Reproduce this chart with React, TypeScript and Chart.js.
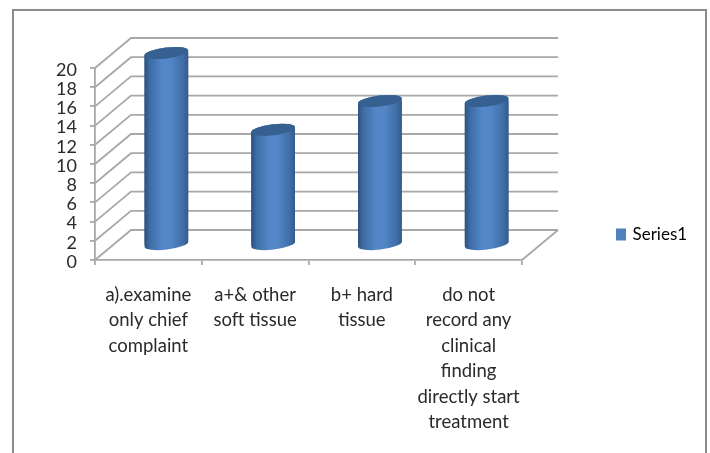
import React, { useEffect, useRef } from "react";
import { Chart, registerables } from "chart.js";

Chart.register(...registerables);

const categories = [
  ["a).examine", "only chief", "complaint"],
  ["a+& other", "soft tissue"],
  ["b+ hard", "tissue"],
  ["do not", "record any", "clinical", "finding", "directly start", "treatment"],
];
const seriesValues = [20, 12, 15, 15];
const seriesName = "Series1";

const FONT = "Lato";
const GRID = "#a8a8a8";
const TEXT = "#2a2a2a";
const DEPTH_X = 36;
const DEPTH_Y = -30;
const BAR_DX = 18;
const BAR_DY = -15;
const RX = 22;
const RY = 5.5;
const TILT = (-7 * Math.PI) / 180;

function cylinderGradient(ctx: CanvasRenderingContext2D, cx: number) {
  const g = ctx.createLinearGradient(cx - RX, 0, cx + RX, 0);
  g.addColorStop(0, "#2c507e");
  g.addColorStop(0.12, "#3d6ca4");
  g.addColorStop(0.42, "#5588ca");
  g.addColorStop(0.6, "#5386c6");
  g.addColorStop(0.88, "#3f6ea7");
  g.addColorStop(1, "#35598a");
  return g;
}

// Back wall, floor edges and receding gridlines, all taken from the scales.
const wallsPlugin = {
  id: "walls",
  beforeDraw(chart: any) {
    const { ctx, width, height } = chart;
    ctx.save();
    ctx.fillStyle = "#ffffff";
    ctx.fillRect(0, 0, width, height);
    ctx.strokeStyle = "#8c8c8c";
    ctx.lineWidth = 2;
    ctx.beginPath();
    ctx.moveTo(13, height);
    ctx.lineTo(13, 10);
    ctx.lineTo(706, 10);
    ctx.lineTo(706, height);
    ctx.stroke();
    ctx.restore();
  },
  beforeDatasetsDraw(chart: any) {
    const { ctx, chartArea, scales } = chart;
    const { left, right } = chartArea;
    ctx.save();
    ctx.strokeStyle = GRID;
    ctx.lineWidth = 1.8;
    scales.y.ticks.forEach((t: any) => {
      const y = scales.y.getPixelForValue(t.value);
      ctx.beginPath();
      ctx.moveTo(left, y);
      ctx.lineTo(left + DEPTH_X, y + DEPTH_Y);
      ctx.lineTo(right + DEPTH_X, y + DEPTH_Y);
      ctx.stroke();
    });
    const floor = scales.y.getPixelForValue(0);
    ctx.beginPath();
    ctx.moveTo(right, floor);
    ctx.lineTo(right + DEPTH_X, floor + DEPTH_Y);
    ctx.stroke();
    ctx.restore();
  },
  // Bars stand halfway into the floor, with rounded ends for the cylinder look.
  beforeDatasetDraw(chart: any, args: any) {
    const { ctx } = chart;
    ctx.save();
    ctx.translate(BAR_DX, BAR_DY);
    const bars = chart.getDatasetMeta(args.index).data;
    const clip = new Path2D();
    bars.forEach((b: any) => {
      const body = new Path2D();
      body.ellipse(b.x, b.y, RX, RY, TILT, Math.PI, 0, false);
      body.ellipse(b.x, b.base, RX, RY, TILT, 0, Math.PI, false);
      body.closePath();
      ctx.fillStyle = cylinderGradient(ctx, b.x);
      ctx.fill(body);
      clip.addPath(body);
    });
    ctx.clip(clip);
  },
  afterDatasetDraw(chart: any, args: any) {
    const { ctx } = chart;
    ctx.restore();
    ctx.save();
    ctx.translate(BAR_DX, BAR_DY);
    chart.getDatasetMeta(args.index).data.forEach((b: any) => {
      ctx.beginPath();
      ctx.ellipse(b.x, b.y, RX, RY, TILT, 0, Math.PI * 2);
      ctx.fillStyle = "#36608f";
      ctx.fill();
    });
    ctx.restore();
  },
  afterLayout(chart: any) {
    const legend = chart.legend;
    if (!legend) return;
    legend.left = 616;
    legend.right = 700;
    legend.top = 226;
    legend.bottom = 248;
  },
};

export default function App() {
  const ref = useRef<HTMLCanvasElement>(null);
  useEffect(() => {
    const chart = new Chart(ref.current!, {
      type: "bar",
      data: {
        labels: categories,
        datasets: [
          {
            label: seriesName,
            data: seriesValues,
            barThickness: RX * 2,
            borderWidth: 0,
            backgroundColor: (c: any) =>
              c.type === "data"
                ? cylinderGradient(c.chart.ctx, c.chart.scales.x.getPixelForValue(c.dataIndex))
                : "#4f81bd",
          },
        ],
      },
      plugins: [wallsPlugin],
      options: {
        responsive: false,
        animation: false,
        layout: { padding: { top: 68, right: 188, bottom: 0, left: 0 } },
        plugins: {
          title: { display: false },
          tooltip: { enabled: false },
          legend: {
            position: "chartArea" as any,
            align: "start",
            labels: {
              boxWidth: 8,
              boxHeight: 8,
              padding: 0,
              color: TEXT,
              font: { family: FONT, size: 17 },
              generateLabels: () => [
                { text: seriesName, fillStyle: "#4f81bd", strokeStyle: "#4f81bd", lineWidth: 4 },
              ],
            },
          },
        },
        scales: {
          x: {
            afterFit: (s: any) => {
              s.height = 193;
            },
            border: { color: GRID, width: 1.8 },
            grid: { drawOnChartArea: false, tickLength: 5, color: GRID, lineWidth: 1.8 },
            ticks: {
              autoSkip: false,
              maxRotation: 0,
              padding: 17,
              color: TEXT,
              font: { family: FONT, size: 18.5, lineHeight: 1.38 },
            },
          },
          y: {
            min: 0,
            max: 20,
            afterFit: (s: any) => {
              s.width = 95;
            },
            border: { color: GRID, width: 1.8 },
            grid: { drawOnChartArea: false, tickLength: 5, color: GRID, lineWidth: 1.8 },
            ticks: {
              stepSize: 2,
              autoSkip: false,
              padding: 13,
              labelOffset: 2,
              color: TEXT,
              font: { family: FONT, size: 18 },
            },
          },
        },
      },
    });
    return () => chart.destroy();
  }, []);
  return (
    <div style={{ position: "fixed", left: 0, top: 0, width: 710, height: 453 }}>
      <canvas ref={ref} width={710} height={453} style={{ display: "block" }} />
    </div>
  );
}
